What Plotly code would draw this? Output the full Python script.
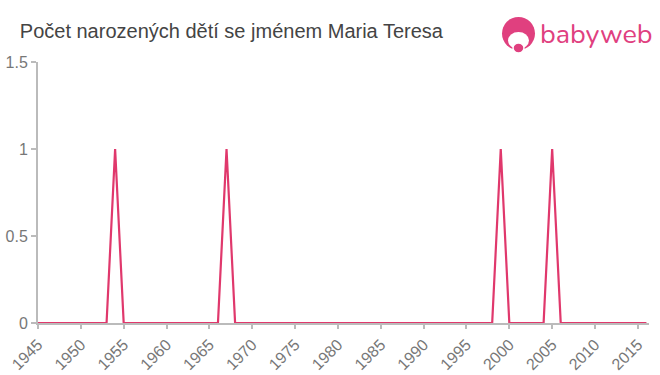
import plotly.graph_objects as go

years = list(range(1945, 2017))
peak_years = [1954, 1967, 1999, 2005]
peak_values = [1, 1, 1, 1]
counts = [peak_values[peak_years.index(y)] if y in peak_years else 0 for y in years]

title_text = "Počet narozených dětí se jménem Maria Teresa"
x_ticks = list(range(1945, 2016, 5))
y_ticks = [0, 0.5, 1, 1.5]
y_tick_labels = ["0", "0.5", "1", "1.5"]

L, R, T, B = 38, 11, 62, 52
PW, PH = 660 - L - R, 375 - T - B

def px(x):
    return (x - L) / PW

def py(y):
    return (375 - B - y) / PH

fig = go.Figure()
fig.add_trace(go.Scatter(
    x=years, y=counts, mode="lines",
    line=dict(color="#e0386c", width=2.2),
    hoverinfo="x+y", showlegend=False,
))

fig.update_layout(
    width=660, height=375,
    margin=dict(l=L, r=R, t=T, b=B),
    paper_bgcolor="white", plot_bgcolor="white",
    font=dict(family="Liberation Sans, Arial, sans-serif", color="#777"),
    title=dict(text=title_text, x=0.03, xanchor="left", y=0.917, yanchor="middle",
               font=dict(size=20, color="#444")),
    xaxis=dict(range=[1945, 2016.3], tickvals=x_ticks, tickangle=-45, automargin=False,
               showgrid=False, zeroline=False, showline=True, linecolor="#bbb", linewidth=2,
               ticks="outside", ticklen=4, tickcolor="#bbb", tickwidth=2,
               tickfont=dict(size=16, color="#777")),
    yaxis=dict(range=[0, 1.5], tickvals=y_ticks, ticktext=y_tick_labels, automargin=False,
               showgrid=False, zeroline=False, showline=True, linecolor="#bbb", linewidth=2,
               ticks="outside", ticklen=5, tickcolor="#bbb", tickwidth=2,
               tickfont=dict(size=16, color="#777")),
)

# logo icon
pink = "#e0407f"
fig.add_shape(type="circle", xref="paper", yref="paper",
              x0=px(502), x1=px(535), y0=py(50), y1=py(17),
              fillcolor=pink, line=dict(width=0))
fig.add_shape(type="circle", xref="paper", yref="paper",
              x0=px(508), x1=px(529), y0=py(49), y1=py(32),
              fillcolor="white", line=dict(width=0))
fig.add_shape(type="circle", xref="paper", yref="paper",
              x0=px(513), x1=px(524), y0=py(53), y1=py(43),
              fillcolor=pink, line=dict(color="white", width=1.5))
fig.add_annotation(text="babyweb", xref="paper", yref="paper",
                   x=px(538), y=py(34), xanchor="left", yanchor="middle",
                   showarrow=False, font=dict(size=27, color=pink, family="Nunito, Lato, sans-serif"))

fig.write_html("out.html")
